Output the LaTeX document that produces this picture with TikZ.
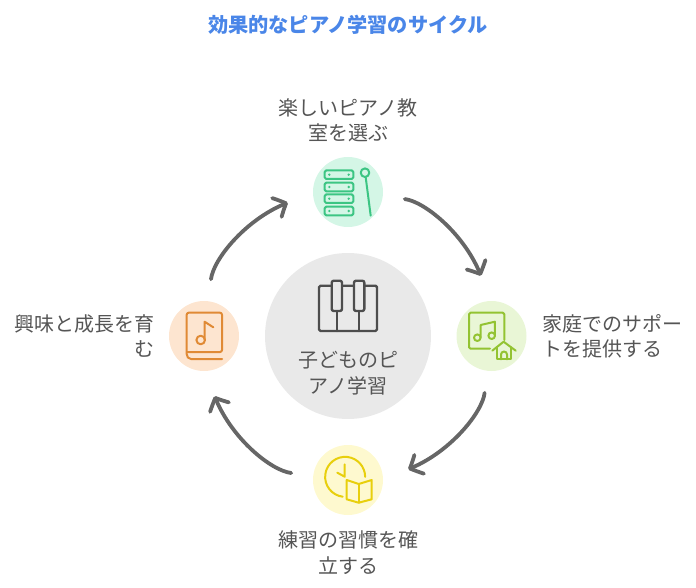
\documentclass[tikz,border=0pt]{standalone}
\usepackage{fontspec}
\usepackage{xcolor}
\setmainfont{Noto Sans CJK JP}
\usetikzlibrary{positioning,calc,arrows.meta,bending}
\definecolor{txtgray}{HTML}{555555}
\definecolor{arrgray}{HTML}{666666}
\definecolor{titleblue}{HTML}{4A86E8}
\definecolor{bggreen}{HTML}{D4F6E6}
\definecolor{bglime}{HTML}{E9F6D6}
\definecolor{bgyellow}{HTML}{FEF9CF}
\definecolor{bgorange}{HTML}{FDE5D0}
\definecolor{bggray}{HTML}{E9E9E9}
\definecolor{icgreen}{HTML}{3CC583}
\definecolor{iclime}{HTML}{93C332}
\definecolor{icyellow}{HTML}{E8CF0C}
\definecolor{icorange}{HTML}{E08A35}
\definecolor{icgray}{HTML}{4D4D4D}
\tikzset{
  lbl/.style={text=txtgray,font=\fontsize{20}{25.5}\selectfont,inner sep=0pt},
  cyc/.style={draw=arrgray,line width=3.8pt,line cap=round,looseness=0.9,
    shorten <=22pt,shorten >=26pt,-{Straight Barb[length=10pt,width=21pt,round,bend]}},
  icon/.style={line width=2pt,line cap=round,line join=round}
}
\newcommand{\snode}[4]{\node [circle,fill=#4,minimum size=#3pt,inner sep=0pt] (#1) at (#2) {}}
\begin{document}
\begin{tikzpicture}[x=1pt,y=-1pt]
\useasboundingbox (0,0) rectangle (696,588);

\snode{CORE}{348,336}{166}{bggray};
\snode{TOP}{348,192}{70}{bggreen};
\snode{RIGHT}{491.5,336}{70}{bglime};
\snode{BOTTOM}{348,480}{70}{bgyellow};
\snode{LEFT}{204,336}{70}{bgorange};

\node [font=\fontsize{20.2}{26}\selectfont\bfseries,text=titleblue,inner sep=0pt] (TITLE) at (348,25) {効果的なピアノ学習のサイクル};
\node [lbl,align=center] (TOPTXT) at (348,120.5) {楽しいピアノ教\\室を選ぶ};
\node [lbl,align=left,anchor=west] (RIGHTTXT) at (542,336.5) {家庭でのサポー\\トを提供する};
\node [lbl,align=center] (BOTTOMTXT) at (348,552.5) {練習の習慣を確\\立する};
\node [lbl,align=right,anchor=east] (LEFTTXT) at (155,336) {興味と成長を育\\む};
\node [lbl,align=center] (CORETXT) at (348,373) {子どものピ\\アノ学習};

\draw[cyc] (TOP) to[bend left=38] (RIGHT);
\draw[cyc] (RIGHT) to[bend left=38] (BOTTOM);
\draw[cyc] (BOTTOM) to[bend left=38] (LEFT);
\draw[cyc] (LEFT) to[bend left=38] (TOP);

% piano
\draw[icon,icgray,line width=2.4pt,rounded corners=1.5pt] (319,285.7) rectangle (377,331);
\draw[icon,icgray,line width=2.4pt] (336.8,311) -- (336.8,331) (359.2,311) -- (359.2,331);
\draw[icon,icgray,line width=2.4pt,fill=bggray,rounded corners=2pt] (331.7,280.7) rectangle (342,311);
\draw[icon,icgray,line width=2.4pt,fill=bggray,rounded corners=2pt] (354,280.7) rectangle (364.3,311);

% xylophone
\foreach \y in {174.7,187,198.7,211} {
  \draw[icon,icgreen,rounded corners=1.5pt] (324.7,\y-4.3) rectangle (353.3,\y+4.3);
  \fill[icgreen] (329.3,\y) circle (1.3) (348.7,\y) circle (1.3);
}
\draw[icon,icgreen] (365,172.7) circle (4.3);
\draw[icon,icgreen] (365.7,177.3) -- (370.7,215.7);

% music and house
\draw[icon,iclime,rounded corners=1.5pt] (490,348.7) -- (469,348.7) -- (469,312.7) -- (504.3,312.7) -- (504.3,340);
\draw[icon,iclime] (477.3,337.7) circle (3.3) (491.7,335.7) circle (3.3);
\draw[icon,iclime] (480.7,337) -- (480.7,325) -- (494.9,321.7) -- (494.9,335);
\draw[icon,iclime] (492.3,350.7) -- (503.6,341.7) -- (515.7,350.7);
\draw[icon,iclime] (497,347) -- (497,359.3) -- (511,359.3) -- (511,347);
\draw[icon,iclime] (501,359.3) -- (501,354.5) arc[start angle=180,end angle=360,radius=3] -- (507,359.3);

% clock and book
\draw[icon,icyellow] (342.7,496.7) arc[start angle=97,end angle=360,radius=20];
\draw[icon,icyellow] (344.7,464.3) -- (344.7,476.7) -- (337.3,472.7);
\draw[icon,icyellow] (358.7,484) -- (346.7,480) -- (346.7,499.3) -- (358.7,502.7) -- (371.7,499.3) -- (371.7,480) -- cycle;
\draw[icon,icyellow] (358.7,484) -- (358.7,502.7);

% book with note
\draw[icon,icorange,rounded corners=2pt] (188,352) -- (222,352) -- (222,312.7) -- (186.7,312.7) -- (186.7,356) -- (189,359) -- (222,359);
\draw[icon,icorange] (200.7,340) circle (4.3);
\draw[icon,icorange] (204.6,340) -- (204.6,321.7) -- (213.3,327.3);
\end{tikzpicture}
\end{document}
